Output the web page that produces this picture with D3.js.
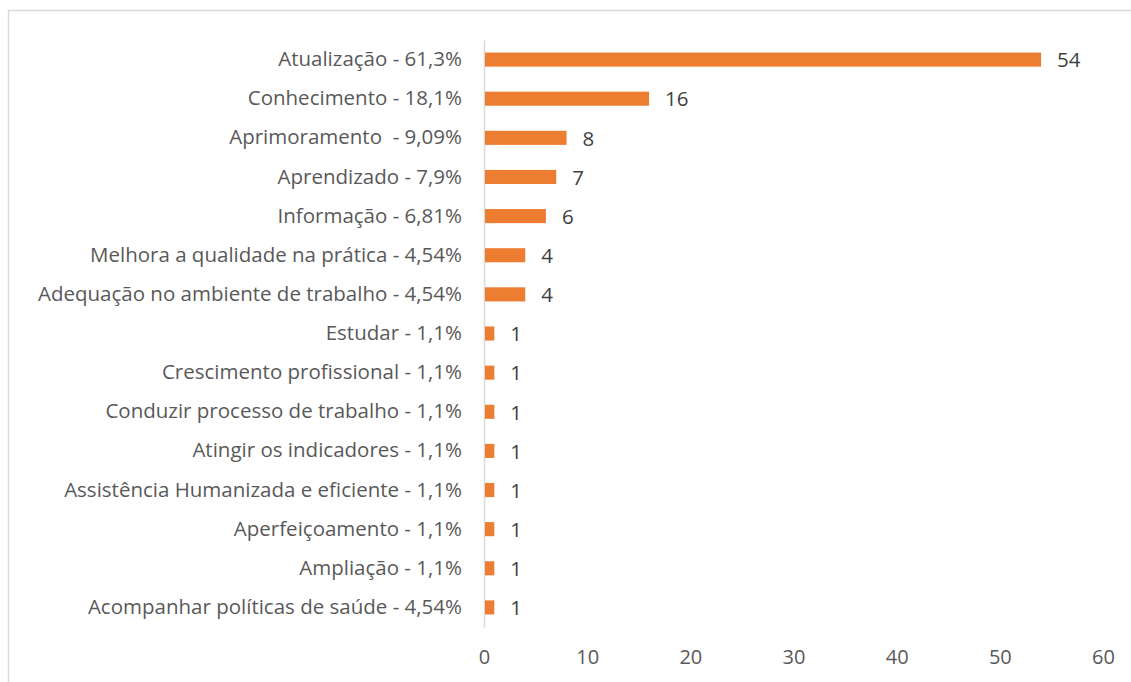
<!DOCTYPE html>
<html>
<head>
<meta charset="utf-8">
<script src="https://cdn.jsdelivr.net/npm/d3@7"></script>
<style>
  body { margin: 0; background: #fff; }
  text { font-family: "Open Sans", sans-serif; white-space: pre; }
</style>
</head>
<body>
<svg width="1131" height="682"></svg>
<script>
var categories = [
  "Atualização - 61,3%",
  "Conhecimento - 18,1%",
  "Aprimoramento  - 9,09%",
  "Aprendizado - 7,9%",
  "Informação - 6,81%",
  "Melhora a qualidade na prática - 4,54%",
  "Adequação no ambiente de trabalho - 4,54%",
  "Estudar - 1,1%",
  "Crescimento profissional - 1,1%",
  "Conduzir processo de trabalho - 1,1%",
  "Atingir os indicadores - 1,1%",
  "Assistência Humanizada e eficiente - 1,1%",
  "Aperfeiçoamento - 1,1%",
  "Ampliação - 1,1%",
  "Acompanhar políticas de saúde - 4,54%"
];
var values = [54, 16, 8, 7, 6, 4, 4, 1, 1, 1, 1, 1, 1, 1, 1];
var xTicks = [0, 10, 20, 30, 40, 50, 60];

var data = categories.map(function(c, i) { return { name: c, value: values[i] }; });

var svg = d3.select("svg"),
  margin = {top: 40, left: 484, right: 28},
  height = 587,
  width = 1103 - margin.left,
  g = svg.append("g")
    .attr("transform", "translate(" + margin.left + "," + margin.top + ")");

// chart frame
svg.append("rect")
  .attr("x", 8.5).attr("y", 10.5)
  .attr("width", 1140).attr("height", 700)
  .attr("fill", "none")
  .attr("stroke", "#d9d9d9")
  .attr("stroke-width", 1.5);

var x = d3.scaleLinear().domain([0, 60]).range([0, width]);
var y = d3.scaleBand().domain(categories).range([0, height]).paddingInner(0.64).paddingOuter(0.32);

// x axis, labels only
var xAxis = g.append("g")
  .attr("transform", "translate(0," + height + ")")
  .call(d3.axisBottom(x).tickValues(xTicks).tickSize(0).tickPadding(23));
xAxis.select(".domain").remove();
xAxis.selectAll("text")
  .attr("fill", "#595959")
  .style("font-size", "20px");

// y axis
var yAxis = g.append("g")
  .call(d3.axisLeft(y).tickSize(0).tickPadding(22));
yAxis.select(".domain").attr("stroke", "#d9d9d9").attr("stroke-width", 1.5);
yAxis.selectAll("text")
  .attr("fill", "#595959")
  .style("font-size", "20.5px");

g.selectAll(".bar")
  .data(data)
  .enter().append("rect")
  .attr("class", "bar")
  .attr("x", x(0) + 1)
  .attr("y", function(d) { return y(d.name); })
  .attr("width", function(d) { return x(d.value) - x(0) - 1; })
  .attr("height", y.bandwidth())
  .attr("fill", "#ed7d31");

g.selectAll(".val")
  .data(data)
  .enter().append("text")
  .attr("class", "val")
  .attr("x", function(d) { return x(d.value) + 16; })
  .attr("y", function(d) { return y(d.name) + y.bandwidth() / 2; })
  .attr("dy", "0.38em")
  .attr("fill", "#404040")
  .style("font-size", "20.5px")
  .text(function(d) { return d.value; });
</script>
</body>
</html>
